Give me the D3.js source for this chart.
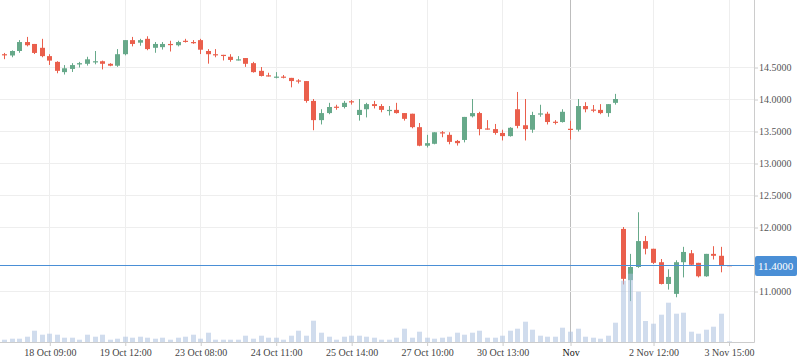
<!DOCTYPE html>
<html>
<head>
<meta charset="utf-8">
<script src="https://cdn.jsdelivr.net/npm/d3@7/dist/d3.min.js"></script>
<style>
  html, body { margin: 0; padding: 0; background: #fff; }
  svg { display: block; }
  text { font-family: "Liberation Serif", "Times New Roman", serif; }
</style>
</head>
<body>
<svg id="chart" width="798" height="363"></svg>
<script>
// ---- data ----
const openP = [
  14.70,14.68,14.75,14.89,14.86,14.80,14.67,14.58,14.42,14.47,
  14.54,14.55,14.58,14.59,14.55,14.52,14.70,14.92,14.88,14.94,
  14.80,14.81,14.86,14.84,14.91,14.89,14.92,14.75,14.70,14.69,
  14.66,14.61,14.64,14.56,14.44,14.37,14.34,14.35,14.33,14.29,
  14.28,13.97,13.67,13.78,13.88,13.875,13.965,13.75,13.84,13.92,
  13.89,13.82,13.83,13.78,13.77,13.56,13.27,13.30,13.48,13.44,
  13.345,13.36,13.73,13.78,13.54,13.53,13.47,13.42,13.84,13.59,
  13.52,13.765,13.77,13.645,13.64,13.535,13.52,13.89,13.835,13.83,
  13.78,13.94,11.97,11.17,11.375,11.78,11.66,11.45,11.11,10.955,
  11.45,11.59,11.44,11.23,11.58,11.55,11.405
];
const highP = [
  14.72,14.76,14.92,14.97,14.86,14.94,14.70,14.59,14.53,14.56,
  14.58,14.66,14.75,14.60,14.56,14.78,14.92,14.97,14.94,14.98,
  14.89,14.89,14.91,14.91,14.94,14.92,14.94,14.78,14.78,14.69,
  14.70,14.67,14.64,14.58,14.50,14.41,14.42,14.375,14.33,14.31,
  14.28,14.00,13.84,13.94,13.91,13.97,13.985,14.00,13.94,13.97,
  13.92,13.89,13.94,13.78,13.77,13.625,13.44,13.48,13.50,13.48,
  13.36,13.72,14.00,13.80,13.67,13.61,13.52,13.56,14.11,14.00,
  13.80,13.91,13.80,13.67,13.84,13.66,14.00,13.95,13.906,13.92,
  13.92,14.08,12.00,11.58,12.23,11.86,11.66,11.50,11.34,11.48,
  11.69,11.64,11.44,11.58,11.70,11.69,11.405
];
const lowP = [
  14.63,14.66,14.73,14.83,14.71,14.66,14.54,14.41,14.39,14.43,
  14.50,14.53,14.55,14.47,14.52,14.51,14.69,14.83,14.84,14.77,
  14.73,14.78,14.75,14.83,14.89,14.87,14.71,14.56,14.66,14.61,
  14.59,14.61,14.51,14.42,14.36,14.36,14.33,14.33,14.19,14.25,
  13.95,13.52,13.61,13.77,13.84,13.86,13.92,13.67,13.72,13.86,
  13.80,13.75,13.78,13.67,13.55,13.27,13.25,13.30,13.41,13.30,
  13.28,13.33,13.72,13.44,13.53,13.45,13.36,13.42,13.55,13.36,
  13.48,13.73,13.61,13.61,13.64,13.375,13.50,13.80,13.80,13.77,
  13.73,13.92,11.11,10.85,11.37,11.58,11.43,11.11,11.03,10.91,
  11.22,11.41,11.22,11.23,11.50,11.30,11.40
];
const closeP = [
  14.69,14.75,14.89,14.84,14.72,14.67,14.60,14.44,14.48,14.53,
  14.56,14.62,14.59,14.55,14.52,14.70,14.92,14.86,14.92,14.78,
  14.86,14.86,14.85,14.89,14.90,14.88,14.77,14.70,14.69,14.68,
  14.61,14.62,14.55,14.42,14.36,14.36,14.35,14.34,14.28,14.28,
  13.97,13.67,13.78,13.875,13.87,13.94,13.955,13.83,13.92,13.89,
  13.83,13.83,13.78,13.69,13.56,13.27,13.31,13.48,13.47,13.33,
  13.31,13.72,13.78,13.53,13.53,13.47,13.42,13.55,13.58,13.53,
  13.75,13.775,13.64,13.635,13.80,13.525,13.89,13.84,13.825,13.78,
  13.92,14.00,11.19,11.375,11.78,11.66,11.44,11.11,11.22,11.45,
  11.61,11.41,11.23,11.58,11.55,11.39,11.40
];
const volume = [
  23,33,33,53,113,73,83,73,43,43,
  23,73,53,73,23,33,53,43,53,43,
  33,43,23,43,53,73,33,93,23,23,
  23,23,63,33,63,43,43,23,63,113,
  63,213,93,53,23,53,63,63,53,43,
  23,23,43,133,43,103,43,33,43,53,
  93,73,93,113,43,43,63,113,133,203,
  123,63,53,53,143,103,133,53,43,33,
  63,193,613,683,503,210,183,273,393,283,
  293,103,83,123,153,283,7
];
const xTickIndex = [6, 16, 26, 36, 46, 56, 66, 75, 86, 96];
const xTickLabels = ["18 Oct 09:00","19 Oct 12:00","23 Oct 08:00","24 Oct 11:00","25 Oct 14:00",
                     "27 Oct 10:00","30 Oct 13:00","Nov","2 Nov 12:00","3 Nov 15:00"];
const yTicks = [11.0, 12.0, 12.5, 13.0, 13.5, 14.0, 14.5];
const lastPrice = 11.4;
const crossIndex = 75;

// ---- layout ----
const W = 798, H = 363;
const plotRight = 754, plotBottom = 342;
const upColor = "#67a98a", downColor = "#ea5f4c";
const blue = "#4a8fd6";

const svg = d3.select("#chart");
const candles = openP.map((o, i) => ({ i, o, h: highP[i], l: lowP[i], c: closeP[i], v: volume[i] }));

const x = d3.scaleLinear().domain([0, 96]).range([4, 728.5]);
const y = d3.scaleLinear().domain([11, 14.5]).range([291, 67]);
const yv = d3.scaleLinear().domain([0, 1000]).range([plotBottom, plotBottom - 100]);
const crisp = v => Math.round(v) + 0.5;

// grid
const grid = svg.append("g");
grid.selectAll(".vg").data(xTickIndex).join("line")
  .attr("x1", d => crisp(x(d))).attr("x2", d => crisp(x(d)))
  .attr("y1", 0).attr("y2", plotBottom)
  .attr("stroke", d => d === crossIndex ? "#bdbdbd" : "#eeeeee").attr("stroke-width", 1);
grid.selectAll(".hg").data(yTicks).join("line")
  .attr("x1", 0).attr("x2", plotRight)
  .attr("y1", d => crisp(y(d))).attr("y2", d => crisp(y(d)))
  .attr("stroke", "#eeeeee").attr("stroke-width", 1);

// candles
const bodyW = 5;
const cg = svg.append("g");
cg.selectAll(".wick").data(candles).join("line")
  .attr("x1", d => crisp(x(d.i))).attr("x2", d => crisp(x(d.i)))
  .attr("y1", d => y(d.h)).attr("y2", d => y(d.l) + 0.5)
  .attr("stroke", d => d.c < d.o ? downColor : upColor).attr("stroke-width", 1);
cg.selectAll(".body").data(candles).join("rect")
  .attr("x", d => Math.round(x(d.i)) + 0.5 - bodyW / 2)
  .attr("y", d => Math.min(y(d.o), y(d.c)))
  .attr("width", bodyW)
  .attr("height", d => Math.max(1.2, Math.abs(y(d.o) - y(d.c))))
  .attr("fill", d => d.c < d.o ? downColor : upColor);

// volume
svg.append("g").selectAll("rect").data(candles).join("rect")
  .attr("x", d => Math.round(x(d.i)) + 0.5 - 2.5)
  .attr("y", d => yv(d.v))
  .attr("width", 5)
  .attr("height", d => plotBottom - yv(d.v))
  .attr("fill", "#a9c0df").attr("opacity", 0.55);

// axes lines
svg.append("line").attr("x1", 0).attr("x2", plotRight + 0.5).attr("y1", plotBottom + 0.5).attr("y2", plotBottom + 0.5)
  .attr("stroke", "#cccccc");
svg.append("line").attr("x1", plotRight + 0.5).attr("x2", plotRight + 0.5).attr("y1", 0).attr("y2", plotBottom + 0.5)
  .attr("stroke", "#cccccc");

// x axis
const xAxis = d3.axisBottom(x).tickValues(xTickIndex)
  .tickFormat((d, i) => xTickLabels[i]).tickSize(4).tickPadding(3);
const gx = svg.append("g").attr("transform", `translate(0.5,${plotBottom})`).call(xAxis);
gx.select(".domain").remove();
gx.selectAll(".tick line").attr("stroke", "#cccccc");
gx.selectAll(".tick text").attr("font-size", 10)
  .attr("font-family", '"Liberation Serif", serif')
  .attr("fill", d => d === crossIndex ? "#111" : "#444");

// y axis (right)
const yAxis = d3.axisRight(y).tickValues(yTicks).tickFormat(d3.format(".4f")).tickSize(4).tickPadding(1);
const gy = svg.append("g").attr("transform", `translate(${plotRight},0.5)`).call(yAxis);
gy.select(".domain").remove();
gy.selectAll(".tick line").attr("stroke", "#cccccc");
gy.selectAll(".tick text").attr("font-size", 10)
  .attr("font-family", '"Liberation Serif", serif').attr("fill", "#555");

// last price line + badge
svg.append("line").attr("x1", 0).attr("x2", plotRight)
  .attr("y1", crisp(y(lastPrice))).attr("y2", crisp(y(lastPrice)))
  .attr("stroke", blue).attr("stroke-width", 1);
svg.append("rect").attr("x", plotRight + 1).attr("y", y(lastPrice) - 9.5)
  .attr("width", 42).attr("height", 20).attr("rx", 2).attr("fill", blue);
svg.append("text").attr("x", plotRight + 4).attr("y", y(lastPrice) + 0.5)
  .attr("dy", "0.35em").attr("font-size", 11).attr("fill", "#fff")
  .text(d3.format(".4f")(lastPrice));
</script>
</body>
</html>
